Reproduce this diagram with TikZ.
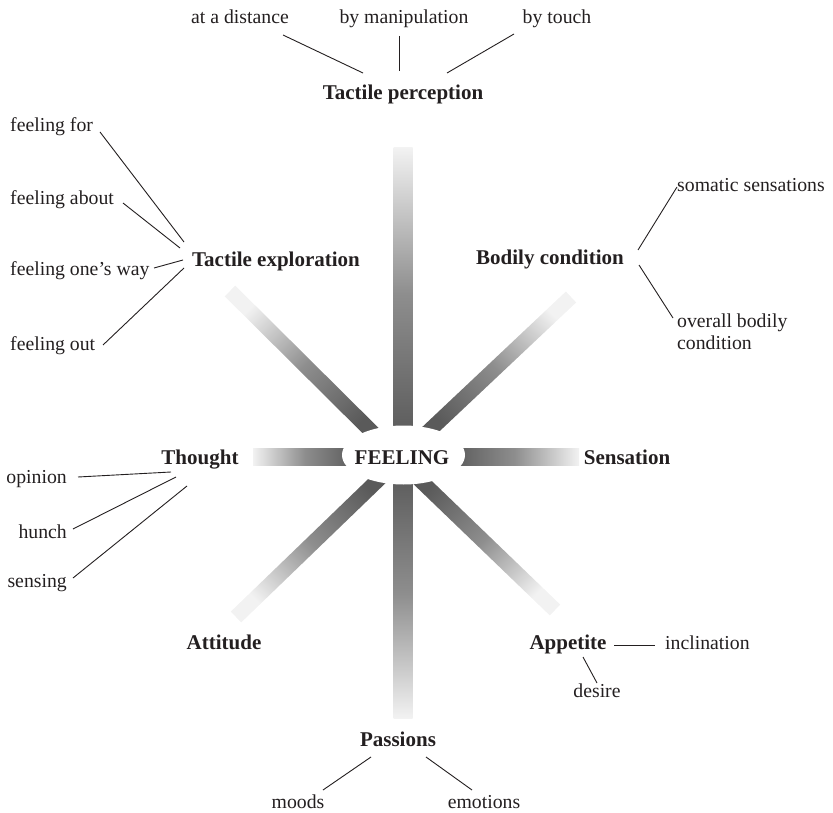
\documentclass[tikz,border=0pt]{standalone}
\usepackage{fontspec}
\setmainfont{Liberation Serif}
\usetikzlibrary{calc}

\definecolor{ink}{HTML}{231F20}
\definecolor{barDark}{HTML}{5A5A5A}
\definecolor{barMid}{HTML}{8E8E8E}
\definecolor{barLight}{HTML}{F2F2F2}

\tikzset{
  cat/.style={inner sep=0pt, text=ink, font=\fontsize{21}{22}\selectfont\bfseries},
  sub/.style={inner sep=0pt, text=ink, font=\fontsize{19.75}{22}\selectfont},
  link/.style={draw=ink, line width=0.9pt},
}

% shaded bar from an inner point (#1) to an outer point (#2);
% #3 = half thickness, #4 = direction of the bar in degrees
\newcommand\gradbar[4]{%
  \coordinate (gb-a) at ($(#1)!-14pt!(#2)$);
  \shade[draw=none, bottom color=barDark, top color=barLight, middle color=barMid,
         shading angle=#4-90]
    ($(gb-a)!#3!90:(#2)$) -- ($(gb-a)!#3!-90:(#2)$) --
    ($(#2)!#3!90:(gb-a)$) -- ($(#2)!#3!-90:(gb-a)$) -- cycle;
}

\begin{document}
\begin{tikzpicture}[x=1pt, y=-1pt]
\useasboundingbox (0,0) rectangle (833,813);

% ---- radiating bars ----
\coordinate (nIn) at (403,425);  \coordinate (nOut) at (403,148);
\coordinate (sIn) at (403,484);  \coordinate (sOut) at (403,718);
\coordinate (eIn) at (465,457);  \coordinate (eOut) at (579,457);
\coordinate (wIn) at (342,457);  \coordinate (wOut) at (253,457);
\coordinate (nwIn) at (370,430); \coordinate (nwOut) at (230,291);
\coordinate (neIn) at (431,429); \coordinate (neOut) at (571,297);
\coordinate (swIn) at (378,480); \coordinate (swOut) at (236,617);
\coordinate (seIn) at (421,481); \coordinate (seOut) at (555,610);

\gradbar{nIn}{nOut}{9.5pt}{90}
\gradbar{sIn}{sOut}{9.5pt}{-90}
\gradbar{eIn}{eOut}{8.5pt}{0}
\gradbar{wIn}{wOut}{8.5pt}{180}
\gradbar{nwIn}{nwOut}{7.5pt}{135.2}
\gradbar{neIn}{neOut}{7.5pt}{43.3}
\gradbar{swIn}{swOut}{7.5pt}{-136}
\gradbar{seIn}{seOut}{7.5pt}{-43.9}

% clear the centre so the bars end on an ellipse round the title
\fill[white] (403.5,455) ellipse [x radius=61.5, y radius=29.5];

% ---- main labels ----
\node[cat, anchor=base] (feel) at (402,464) {FEELING};
\node[cat, anchor=base] (tp) at (403,100) {Tactile perception};
\node[cat, anchor=base] (texp) at (276,266) {Tactile exploration};
\node[cat, anchor=base] (bc) at (550,265) {Bodily condition};
\node[cat, anchor=base] (sens) at (627,464) {Sensation};
\node[cat, anchor=base] (thought) at (200,464) {Thought};
\node[cat, anchor=base] (app) at (568,649) {Appetite};
\node[cat, anchor=base] (att) at (224,649) {Attitude};
\node[cat, anchor=base] (pas) at (398,746) {Passions};

% ---- sub labels ----
\node[sub, anchor=base] (adist) at (240,24) {at a distance};
\node[sub, anchor=base] (bym) at (404,24) {by manipulation};
\node[sub, anchor=base] (byt) at (557,24) {by touch};

\node[sub, anchor=base west] (ffor) at (10,132) {feeling for};
\node[sub, anchor=base west] (fabout) at (10,205) {feeling about};
\node[sub, anchor=base west] (fway) at (10,276) {feeling one’s way};
\node[sub, anchor=base west] (fout) at (10,350) {feeling out};

\node[sub, anchor=base west] (soma) at (677,192) {somatic sensations};
\node[sub, anchor=north west, align=left] (overall) at (677,314) {overall bodily\\condition};

\node[sub, anchor=base east] (opin) at (67,483) {opinion};
\node[sub, anchor=base east] (hunch) at (67,538) {hunch};
\node[sub, anchor=base east] (sensing) at (67,587) {sensing};

\node[sub, anchor=base west] (incl) at (665,649) {inclination};
\node[sub, anchor=base] (desire) at (597,697) {desire};

\node[sub, anchor=base] (moods) at (298,808) {moods};
\node[sub, anchor=base] (emot) at (484,808) {emotions};

% ---- connectors ----
\draw[link] ($(adist.base)+(43,11)$) -- ($(tp.base)+(-40,-27)$);
\draw[link] ($(bym.base)+(-5,12)$) -- ($(tp.base)+(-4,-29)$);
\draw[link] ($(byt.base)+(-43,10)$) -- ($(tp.base)+(44,-27)$);

\draw[link] ($(ffor.base west)+(90,0)$) -- ($(texp.base)+(-92,-24)$);
\draw[link] ($(fabout.base west)+(113,-2)$) -- ($(texp.base)+(-96,-18)$);
\draw[link] ($(fway.base west)+(144,-8)$) -- ($(texp.base)+(-93,-6)$);
\draw[link] ($(fout.base west)+(93,-5)$) -- ($(texp.base)+(-92,2)$);

\draw[link] ($(bc.base)+(88,-15)$) -- ($(soma.base west)+(0,-5)$);
\draw[link] ($(bc.base)+(89,0)$) -- ($(overall.north west)+(-4,4)$);

\draw[link] ($(opin.base east)+(11,-6)$) -- ($(thought.base)+(-29,8)$);
\draw[link] ($(hunch.base east)+(6,-9)$) -- ($(thought.base)+(-24,13)$);
\draw[link] ($(sensing.base east)+(6,-9)$) -- ($(thought.base)+(-13,22)$);

\draw[link] ($(app.base)+(46,-4)$) -- ($(incl.base west)+(-10,-4)$);
\draw[link] ($(app.base)+(15,8)$) -- ($(desire.base)+(0,-14)$);

\draw[link] ($(pas.base)+(-27,11)$) -- ($(moods.base)+(25,-18)$);
\draw[link] ($(pas.base)+(28,11)$) -- ($(emot.base)+(-12,-18)$);
\end{tikzpicture}
\end{document}
